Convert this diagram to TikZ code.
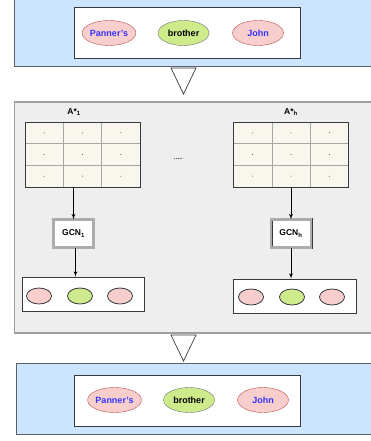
\documentclass[tikz,border=0pt]{standalone}
\usepackage{fontspec}
\setmainfont{Liberation Sans}
\usepackage{tikz}
\usetikzlibrary{arrows,shapes.geometric,positioning}
\definecolor{panelblue}{HTML}{CCE5FF}
\definecolor{panelgray}{HTML}{EEEEEE}
\definecolor{darkline}{HTML}{36393D}
\definecolor{wordred}{HTML}{F8CECC}
\definecolor{wordredline}{HTML}{B85450}
\definecolor{wordgreen}{HTML}{CDEB8B}
\definecolor{wordblue}{HTML}{3333FF}
\definecolor{matfill}{HTML}{F9F7ED}
\newcommand{\headmatrix}[3]{%
  \node[matbox] (#1) at (#2,#3) {};
  \foreach \k in {-1,1} {
    \draw[gridline] ([xshift=\k*19.2pt]#1.north) -- ([xshift=\k*19.2pt]#1.south);
    \draw[gridline] ([yshift=\k*10.8pt]#1.west) -- ([yshift=\k*10.8pt]#1.east);
  }
  \foreach \i in {-1,0,1} \foreach \j in {-1,0,1}
    \fill[darkline] ([xshift=\i*38.3pt,yshift=\j*21.7pt]#1.center) circle (0.5pt);
  \node[matbox,fill=none] () at (#1) {};
}
\tikzset{
  bluepanel/.style={fill=panelblue,draw=darkline!80,line width=0.8pt},
  graypanel/.style={fill=panelgray,draw=gray!75,line width=1.2pt},
  sentbox/.style={draw=darkline,fill=white,line width=0.8pt,minimum width=226pt,minimum height=51pt},
  wordbox/.style={draw=darkline,fill=white,line width=0.7pt,minimum height=34pt},
  redword/.style={ellipse,draw=wordredline,fill=wordred,text=wordblue,minimum width=51pt,minimum height=25pt,inner sep=0pt,font=\fontsize{9}{10}\selectfont\bfseries},
  greenword/.style={redword,draw=darkline!70,fill=wordgreen,text=black},
  reddot/.style={ellipse,draw=darkline,fill=wordred,line width=0.8pt,minimum width=25pt,minimum height=16pt,inner sep=0pt},
  greendot/.style={reddot,fill=wordgreen},
  matbox/.style={draw=darkline,fill=matfill,line width=1pt,minimum width=115pt,minimum height=65pt,inner sep=0pt},
  gridline/.style={draw=gray!70,line width=0.6pt},
  gcnbox/.style={draw=darkline,fill=white,double=gray!65,double distance=2.2pt,minimum width=40pt,minimum height=28pt,inner sep=0pt,font=\fontsize{8.5}{10}\selectfont\bfseries},
  headlabel/.style={font=\fontsize{8.5}{10}\selectfont\bfseries},
  downtri/.style={draw=darkline,fill=white,line width=0.7pt,line join=miter},
  flow/.style={-{latex'[scale=1.3]},draw=black,line width=0.8pt}
}
\begin{document}
\begin{tikzpicture}[x=1pt,y=-1pt]
\useasboundingbox (0,0) rectangle (371,441);
% sentence in
\draw[bluepanel] (14.5,-5) rectangle (380,66);
\node[sentbox] (topbox) at (187,32.5) {};
\node[redword] (tw1) at (109,33) {Panner's};
\node[greenword] (tw2) at (183.5,33) {brother};
\node[redword] (tw3) at (258,33) {John};
\draw[downtri] (171,68) -- (196,68) -- (183.5,94) -- cycle;
% attention heads
\draw[graypanel] (14.5,102) rectangle (380,333);
\headmatrix{A1}{82.5}{154.5}
\headmatrix{Ah}{291}{154.5}
\node[headlabel] (la1) at (74,112) {A*\textsubscript{1}};
\node[headlabel] (lah) at (291,112) {A*\textsubscript{h}};
\node[text=darkline,font=\fontsize{6.5}{7}\selectfont\bfseries] (gap) at (178.5,159.5) {.....};
\node[gcnbox] (G1) at (73.5,233.5) {GCN\textsubscript{1}};
\node[gcnbox] (Gh) at (291,233.5) {GCN\textsubscript{h}};
\node[wordbox,minimum width=122pt] (O1) at (83,294) {};
\node[wordbox,minimum width=123pt] (Oh) at (294.5,296) {};
\node[reddot] (o11) at (39,296) {};
\node[greendot] (o12) at (80,296) {};
\node[reddot] (o13) at (120,296) {};
\node[reddot] (oh1) at (251,297) {};
\node[greendot] (oh2) at (292,297) {};
\node[reddot] (oh3) at (332,297) {};
\draw[flow] (G1 |- A1.south) -- (G1);
\draw[flow] (Ah) -- (Gh);
\draw[flow] ([xshift=2pt]G1.south) -- ([xshift=2pt]G1.south |- O1.north);
\draw[flow] (Gh) -- (Gh |- Oh.north);
\draw[downtri] (171,335) -- (196,335) -- (183.5,361) -- cycle;
% sentence out
\draw[bluepanel] (16,363) rectangle (380,434);
\node[sentbox] (botbox) at (187,401) {};
\node[redword] (bw1) at (114.5,400) {Panner's};
\node[greenword] (bw2) at (189,400) {brother};
\node[redword] (bw3) at (263,400) {John};
\end{tikzpicture}
\end{document}
